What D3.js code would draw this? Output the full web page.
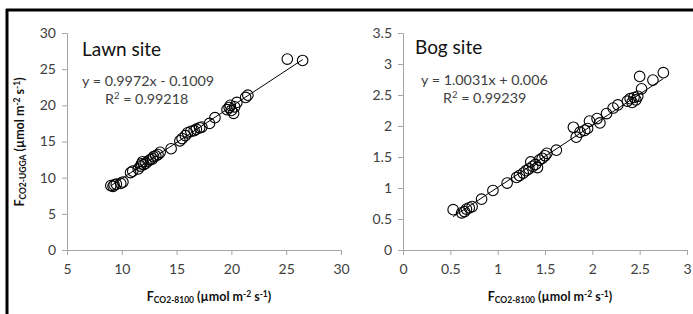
<!DOCTYPE html>
<html>
<head>
<meta charset="utf-8">
<script src="https://cdn.jsdelivr.net/npm/d3@7"></script>
<style>
  body { margin: 0; background: #fff; }
  svg { display: block; font-family: Lato, "Open Sans", sans-serif; }
</style>
</head>
<body>
<script>
// Lawn site: [F_CO2-8100, F_CO2-UGGA]
const lawnData = [
  [9.0,8.9],[9.2,8.8],[9.3,9.0],[9.5,9.1],[9.9,9.2],[10.1,9.4],[10.8,10.7],[11.0,10.9],
  [11.5,11.2],[11.7,11.6],[11.8,11.9],[11.9,12.2],[12.0,11.8],[12.2,12.0],[12.4,12.3],
  [12.6,12.5],[12.8,12.6],[12.9,12.9],[13.1,13.0],[13.3,13.2],[13.5,13.5],[14.5,14.0],
  [15.3,15.1],[15.5,15.4],[15.8,15.8],[16.0,16.2],[16.3,16.4],[16.6,16.5],[16.8,16.7],
  [17.1,16.9],[17.3,17.0],[18.0,17.5],[18.5,18.3],[19.6,19.4],[19.8,19.7],[19.9,20.0],
  [20.0,19.3],[20.2,18.9],[20.3,19.8],[20.5,20.4],[21.3,21.1],[21.5,21.4],[25.1,26.4],[26.5,26.2]
];
// Bog site
const bogData = [
  [0.53,0.65],[0.62,0.60],[0.65,0.62],[0.67,0.66],[0.70,0.68],[0.73,0.70],[0.83,0.82],
  [0.95,0.96],[1.10,1.08],[1.20,1.17],[1.23,1.20],[1.27,1.24],[1.30,1.28],[1.33,1.31],
  [1.35,1.42],[1.37,1.35],[1.40,1.38],[1.42,1.33],[1.44,1.45],[1.47,1.48],[1.50,1.52],
  [1.52,1.56],[1.62,1.61],[1.80,1.98],[1.83,1.82],[1.87,1.90],[1.92,1.93],[1.95,1.96],
  [1.97,2.08],[2.05,2.12],[2.08,2.05],[2.15,2.20],[2.22,2.29],[2.27,2.34],[2.37,2.40],
  [2.40,2.44],[2.42,2.38],[2.44,2.46],[2.46,2.42],[2.48,2.48],[2.50,2.80],[2.52,2.60],
  [2.64,2.74],[2.75,2.86]
];

const lawnXTicks = [5, 10, 15, 20, 25, 30];
const lawnYTicks = [0, 5, 10, 15, 20, 25, 30];
const bogXTicks = [0, 0.5, 1, 1.5, 2, 2.5, 3];
const bogYTicks = [0, 0.5, 1, 1.5, 2, 2.5, 3, 3.5];

const lawnFit = {slope: 0.9972, icept: -0.1009, eq: "y = 0.9972x - 0.1009", r2: "0.99218"};
const bogFit = {slope: 1.0031, icept: 0.006, eq: "y = 1.0031x + 0.006", r2: "0.99239"};

const svg = d3.select("body").append("svg")
  .attr("width", 693).attr("height", 314);

svg.append("rect").attr("width", 693).attr("height", 314).attr("fill", "#fff");
// frame
svg.append("line").attr("x1", 6).attr("x2", 693).attr("y1", 10).attr("y2", 10)
  .attr("stroke", "#000").attr("stroke-width", 3);
svg.append("line").attr("x1", 7).attr("x2", 7).attr("y1", 9).attr("y2", 314)
  .attr("stroke", "#000").attr("stroke-width", 3);

function addTitle(g, x, y, sub, rotate) {
  const t = g.append("text")
    .attr("font-weight", "bold").attr("font-size", 12.5).attr("fill", "#111")
    .attr("text-anchor", "middle");
  if (rotate) t.attr("transform", `translate(${x},${y}) rotate(-90)`);
  else t.attr("transform", `translate(${x},${y})`);
  t.append("tspan").text("F");
  t.append("tspan").attr("font-size", 8.5).attr("dy", 2).text(sub);
  t.append("tspan").attr("dy", -2).text(" (\u00b5mol m");
  t.append("tspan").attr("font-size", 8.5).attr("dy", -4).text("-2");
  t.append("tspan").attr("dy", 4).text(" s");
  t.append("tspan").attr("font-size", 8.5).attr("dy", -4).text("-1");
  t.append("tspan").attr("dy", 4).text(")");
}

function drawPanel(opt) {
  const x = d3.scaleLinear().domain(opt.xDom).range([opt.x0, opt.x1]);
  const y = d3.scaleLinear().domain(opt.yDom).range([250, 33]);
  const g = svg.append("g");

  const xa = g.append("g").attr("transform", "translate(0,250)")
    .call(d3.axisBottom(x).tickValues(opt.xTicks).tickSize(5).tickPadding(9)
      .tickFormat(d => d));
  const ya = g.append("g").attr("transform", `translate(${opt.x0},0)`)
    .call(d3.axisLeft(y).tickValues(opt.yTicks).tickSize(5).tickPadding(6)
      .tickFormat(d => d));
  [xa, ya].forEach(a => {
    a.select(".domain").attr("stroke", "#a6a6a6");
    a.selectAll(".tick line").attr("stroke", "#a6a6a6");
    a.selectAll(".tick text").attr("fill", "#404040")
      .attr("font-size", 14).attr("font-family", "Lato, sans-serif");
  });

  // trendline
  const xs = d3.extent(opt.data, d => d[0]);
  g.append("path")
    .attr("d", d3.line()(xs.map(v => [x(v), y(opt.fit.slope * v + opt.fit.icept)])))
    .attr("stroke", "#000").attr("stroke-width", 1).attr("fill", "none");

  g.selectAll("circle.pt").data(opt.data).join("circle")
    .attr("cx", d => x(d[0])).attr("cy", d => y(d[1])).attr("r", 5.3)
    .attr("fill", "none").attr("stroke", "#000").attr("stroke-width", 1.1);

  g.append("text").attr("x", opt.labX).attr("y", opt.labY)
    .attr("font-size", 19).attr("fill", "#111").text(opt.label);
  g.append("text").attr("x", opt.eqX).attr("y", opt.eqY)
    .attr("font-size", 14.3).attr("fill", "#404040").text(opt.fit.eq);
  const r = g.append("text").attr("x", opt.r2X).attr("y", opt.eqY + 18)
    .attr("font-size", 14.3).attr("fill", "#404040");
  r.append("tspan").text("R");
  r.append("tspan").attr("font-size", 9.5).attr("dy", -5).text("2");
  r.append("tspan").attr("dy", 5).text(" = " + opt.fit.r2);

  addTitle(g, (opt.x0 + opt.x1) / 2 + 5, 301, "CO2-8100", false);
  return g;
}

const lawn = drawPanel({
  data: lawnData, fit: lawnFit, xDom: [5, 30], yDom: [0, 30], x0: 67, x1: 341,
  xTicks: lawnXTicks, yTicks: lawnYTicks, label: "Lawn site",
  labX: 82, labY: 56, eqX: 82, eqY: 86, r2X: 105
});
addTitle(lawn, 24, 142, "CO2-UGGA", true);

drawPanel({
  data: bogData, fit: bogFit, xDom: [0, 3], yDom: [0, 3.5], x0: 403, x1: 687,
  xTicks: bogXTicks, yTicks: bogYTicks, label: "Bog site",
  labX: 415, labY: 54, eqX: 421, eqY: 85, r2X: 443
});
</script>
</body>
</html>
